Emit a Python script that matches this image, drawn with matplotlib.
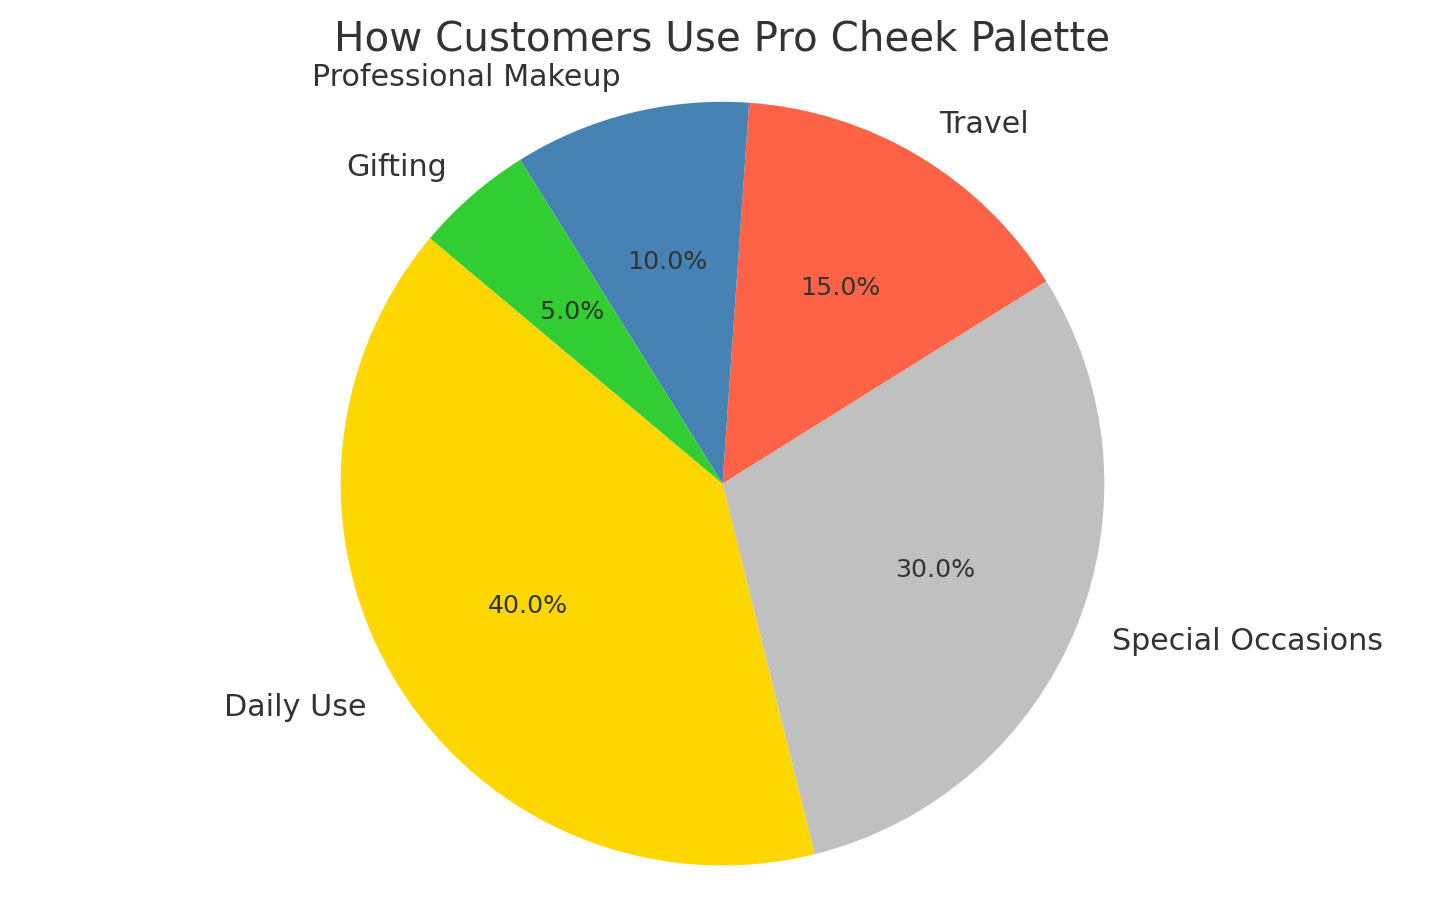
import matplotlib
matplotlib.use("Agg")
import matplotlib.pyplot as plt

categories = ["Daily Use", "Special Occasions", "Travel", "Professional Makeup", "Gifting"]
shares = [40, 30, 15, 10, 5]
colors = ["#FFD700", "#C0C0C0", "#FF6347", "#4682B4", "#32CD32"]

text_color = "#333333"

fig, ax = plt.subplots(figsize=(10, 6.38), dpi=144.5)
wedges, texts, autotexts = ax.pie(
    shares,
    labels=categories,
    colors=colors,
    autopct="%1.1f%%",
    startangle=140,
    textprops={"color": text_color},
)
for t in texts:
    t.set_fontsize(15)
for t in autotexts:
    t.set_fontsize(12.6)
ax.axis("equal")
ax.set_title("How Customers Use Pro Cheek Palette", fontsize=20.1, color=text_color, pad=7)
fig.subplots_adjust(left=0.05, right=0.95, bottom=0.0188, top=0.9300)
fig.savefig("out.png", dpi=144.5, facecolor="white")
